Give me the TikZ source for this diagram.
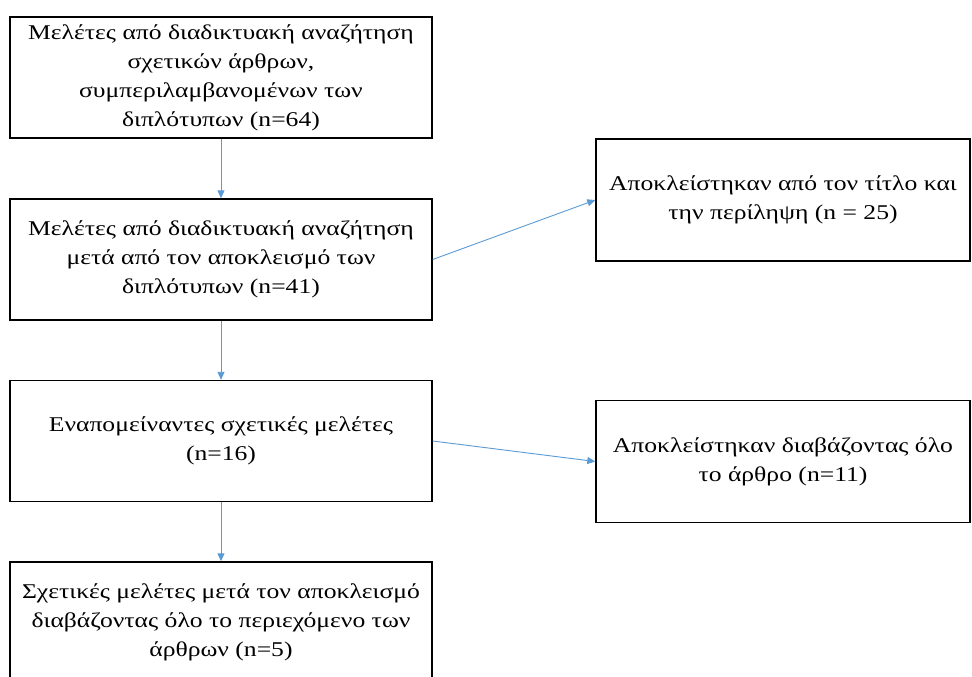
\documentclass[tikz,border=0pt]{standalone}
\usepackage{fontspec}
\setmainfont{Liberation Serif}[FakeStretch=1.22]
\usetikzlibrary{arrows.meta}
\definecolor{arrowblue}{RGB}{91,155,213}
\tikzset{
  box/.style={draw=black, line width=1.4pt, rectangle, align=center, inner sep=0pt,
    font=\fontsize{21}{29}\selectfont, text=black},
  leftbox/.style={box, minimum width=422pt, minimum height=121pt},
  rightbox/.style={box, minimum width=374pt, minimum height=122pt},
  conn/.style={draw=arrowblue, line width=0.9pt, -{Triangle[length=8pt,width=7pt]}}
}
\begin{document}
\begin{tikzpicture}[x=1pt,y=-1pt]
\useasboundingbox (0,0) rectangle (972,677);
\fill[white] (0,0) rectangle (972,677);
\node[leftbox] (b1) at (221,77.5) {Μελέτες από διαδικτυακή αναζήτηση\\σχετικών άρθρων,\\συμπεριλαμβανομένων των\\διπλότυπων (n=64)};
\node[leftbox] (b2) at (221,259.5) {Μελέτες από διαδικτυακή αναζήτηση\\μετά από τον αποκλεισμό των\\διπλότυπων (n=41)};
\node[leftbox] (b3) at (221,441) {Εναπομείναντες σχετικές μελέτες\\(n=16)};
\node[leftbox] (b4) at (221,622.5) {Σχετικές μελέτες μετά τον αποκλεισμό\\διαβάζοντας όλο το περιεχόμενο των\\άρθρων (n=5)};
\node[rightbox] (r1) at (783,200) {Αποκλείστηκαν από τον τίτλο και\\την περίληψη (n = 25)};
\node[rightbox] (r2) at (783,461.5) {Αποκλείστηκαν διαβάζοντας όλο\\το άρθρο (n=11)};
\draw[conn] (b1) -- (b2);
\draw[conn] (b2) -- (b3);
\draw[conn] (b3) -- (b4);
\draw[conn] (b2.east) -- (r1.west);
\draw[conn] (b3.east) -- (r2.west);
\end{tikzpicture}
\end{document}
